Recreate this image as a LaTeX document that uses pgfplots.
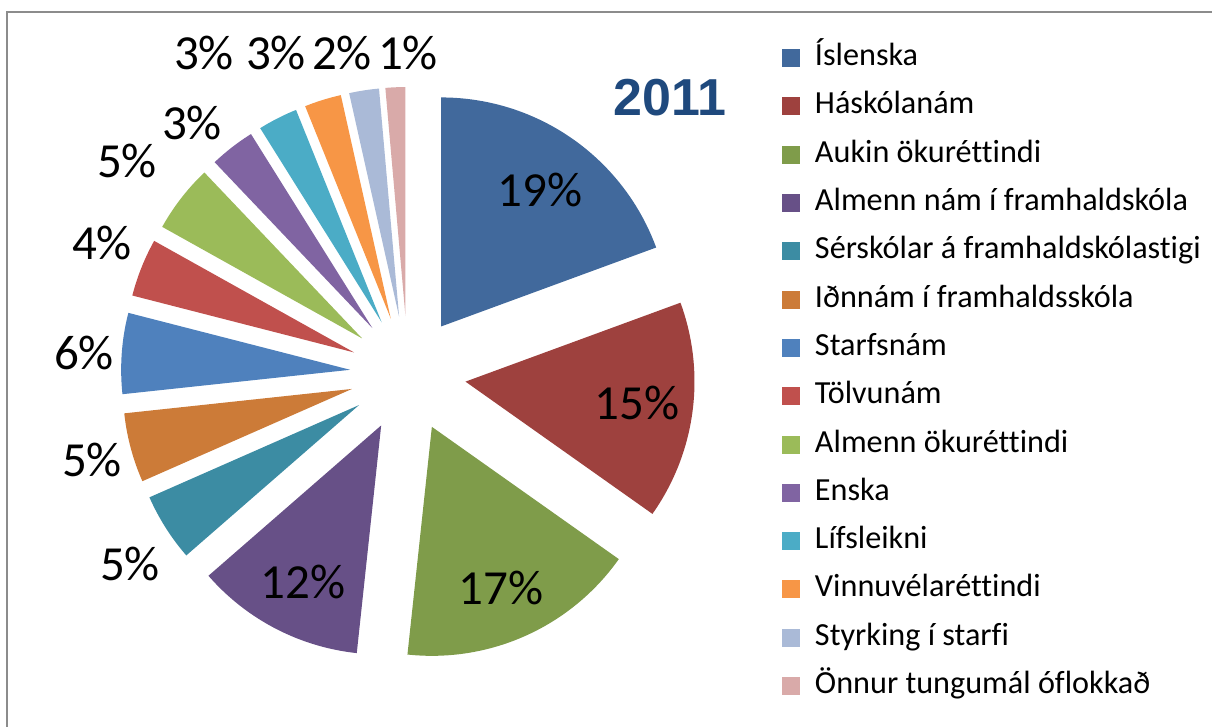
\documentclass[border=0pt]{standalone}
\usepackage{pgfplots}
\pgfplotsset{compat=1.18}
\usepackage{pgfplotstable}
\usepackage{fontspec}
\setmainfont{Carlito}[Ligatures=NoCommon]
\newfontfamily\arialfont{Liberation Sans}

\definecolor{c0}{HTML}{41699C}
\definecolor{c1}{HTML}{9E413E}
\definecolor{c2}{HTML}{7F9C4A}
\definecolor{c3}{HTML}{675087}
\definecolor{c4}{HTML}{3C8CA3}
\definecolor{c5}{HTML}{CC7B38}
\definecolor{c6}{HTML}{4F81BD}
\definecolor{c7}{HTML}{C0504D}
\definecolor{c8}{HTML}{9BBB59}
\definecolor{c9}{HTML}{8064A2}
\definecolor{c10}{HTML}{4BACC6}
\definecolor{c11}{HTML}{F79646}
\definecolor{c12}{HTML}{AABAD7}
\definecolor{c13}{HTML}{D9AAA9}
\definecolor{titleblue}{HTML}{1F497D}
\definecolor{framegray}{HTML}{8C8C8C}

% value = share in percent; lx, ly = label position (pixels, from top-left)
\pgfplotstableread{
value lx  ly
19.4  540 190
15.4  637 403
16.9  501 588
11.9  303 582
4.8   130 564
4.9   92  460
5.7   84  353
4.1   102 243
4.8   127 161
3.2   192 123
2.8   204 53
2.6   276 53
2.1   342 53
1.4   408 53
}\piedata

\begin{document}
\begin{tikzpicture}
\useasboundingbox (0,0) rectangle (606pt,363.5pt);
\xdef\acc{90}
\pgfplotsforeachungrouped \i in {0,...,13}{%
  \pgfplotstablegetelem{\i}{value}\of\piedata \let\vv\pgfplotsretval
  \pgfmathsetmacro\aS{\acc}%
  \pgfmathsetmacro\aE{\acc-3.6*\vv}%
  \pgfmathsetmacro\aM{0.5*(\aS+\aE)}%
  \pgfmathsetmacro\apx{408+58*cos(\aM)}%
  \pgfmathsetmacro\apy{353+58*sin(\aM)}%
  \pgfplotstablegetelem{\i}{lx}\of\piedata \let\lxv\pgfplotsretval
  \pgfplotstablegetelem{\i}{ly}\of\piedata \let\lyv\pgfplotsretval
  \pgfmathsetmacro\lyd{727-\lyv}%
  \pgfmathtruncatemacro\lab{round(\vv)}%
  \expandafter\xdef\csname sS\i\endcsname{\aS}%
  \expandafter\xdef\csname sE\i\endcsname{\aE}%
  \expandafter\xdef\csname ax\i\endcsname{\apx}%
  \expandafter\xdef\csname ay\i\endcsname{\apy}%
  \expandafter\xdef\csname lx\i\endcsname{\lxv}%
  \expandafter\xdef\csname ly\i\endcsname{\lyd}%
  \expandafter\xdef\csname lb\i\endcsname{\lab}%
  \xdef\acc{\aE}%
}
\begin{axis}[
  at={(0,0)}, anchor=south west,
  x=0.5pt, y=0.5pt,
  xmin=0, xmax=1212, ymin=0, ymax=727,
  enlargelimits=false,
  hide axis, clip=false,
  legend entries={Íslenska, Háskólanám, Aukin ökuréttindi, Almenn nám í framhaldskóla, Sérskólar á framhaldskólastigi, Iðnnám í framhaldsskóla, Starfsnám, Tölvunám, Almenn ökuréttindi, Enska, Lífsleikni, Vinnuvélaréttindi, Styrking í starfi, Önnur tungumál óflokkað},
  legend image code/.code={\fill[#1] (0pt,-4.5pt) rectangle (9pt,4.5pt);},
  legend cell align=left,
  legend style={at={(0.6452,0.9385)}, anchor=north west, draw=none, fill=none,
    inner sep=0pt, outer sep=0pt, row sep=10.65pt, column sep=7.5pt,
    font=\fontsize{16.1}{18}\selectfont,
    nodes={inner sep=0pt, text height=10.5pt, text depth=3pt}},
]
\pgfplotsinvokeforeach{0,...,13}{
  \addplot[fill=c#1, draw=none, domain=\csname sE#1\endcsname:\csname sS#1\endcsname, samples=90, variable=\t]
    ({\csname ax#1\endcsname+229*cos(\t)},{\csname ay#1\endcsname+229*sin(\t)})
    -- (axis cs:\csname ax#1\endcsname,\csname ay#1\endcsname) -- cycle;
}
\pgfplotsinvokeforeach{0,...,13}{
  \node[font=\fontsize{24.5}{28}\selectfont, inner sep=0pt] at (axis cs:\csname lx#1\endcsname,\csname ly#1\endcsname) {\csname lb#1\endcsname\%};
}
\node[font=\arialfont\bfseries\fontsize{26}{30}\selectfont, text=titleblue, inner sep=0pt] at (axis cs:670,629) {2011};
\draw[framegray, line width=0.9pt] (axis cs:7,0) -- (axis cs:7,715) -- (axis cs:1212,715);
\end{axis}
\end{tikzpicture}
\end{document}
